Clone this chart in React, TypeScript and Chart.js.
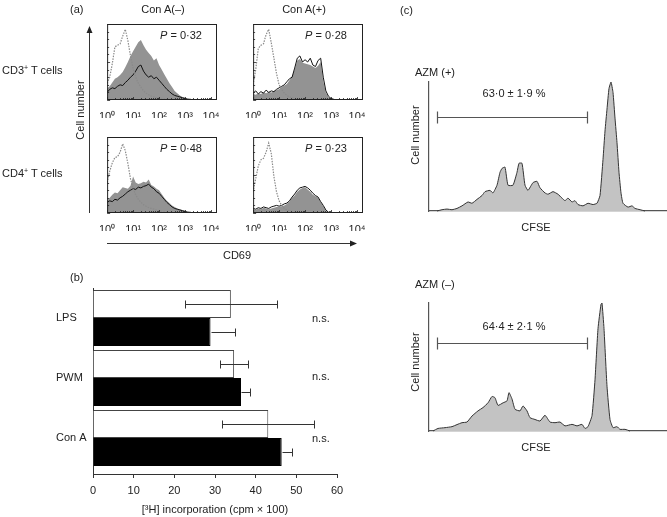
import React, { useEffect, useRef } from 'react';
import { Chart, registerables } from 'chart.js';

Chart.register(...registerables);
Chart.defaults.font.family = '"Liberation Sans", Arial, sans-serif';
Chart.defaults.color = '#222';

// ---------- Panel (a): CD69 histograms (x = log10 fluorescence) ----------
const logGrid = [0, 0.1, 0.2, 0.3, 0.4, 0.5, 0.6, 0.7, 0.8, 0.9, 1, 1.1, 1.2, 1.3, 1.4, 1.5, 1.6, 1.7, 1.8, 1.9, 2, 2.1, 2.2, 2.3, 2.4, 2.5, 2.6, 2.7, 2.8, 2.9, 3, 3.1, 3.2, 3.3, 3.4, 3.5, 3.6, 3.7, 3.8, 3.9, 4, 4.1, 4.2];
const decadeTicks = ['10⁰', '10¹', '10²', '10³', '10⁴'];

const cd3NegCtrl = [22, 30, 48, 70, 72, 74, 84, 93, 78, 58, 42, 30, 22, 17, 12, 9, 7, 5, 4, 3, 3, 2, 2, 1, 1, 0, 0, 0, 0, 0, 0, 0, 0, 0, 0, 0, 0, 0, 0, 0, 0, 0, 0];
const cd3NegAzm = [10, 14, 16, 15, 18, 20, 19, 23, 26, 30, 33, 38, 44, 46, 38, 33, 30, 32, 28, 30, 26, 22, 18, 14, 11, 8, 6, 5, 4, 3, 2, 1, 1, 0, 0, 0, 0, 0, 0, 0, 0, 0, 0];
const cd3NegGray = [15, 18, 23, 28, 30, 33, 37, 43, 50, 58, 64, 70, 76, 79, 72, 66, 62, 58, 52, 55, 46, 40, 34, 28, 22, 17, 12, 9, 6, 4, 3, 2, 1, 1, 0, 0, 0, 0, 0, 0, 0, 0, 0];

const cd3PosCtrl = [20, 40, 68, 72, 74, 86, 93, 75, 55, 35, 20, 14, 9, 6, 4, 3, 2, 1, 1, 0, 0, 0, 0, 0, 0, 0, 0, 0, 0, 0, 0, 0, 0, 0, 0, 0, 0, 0, 0, 0, 0, 0, 0];
const cd3PosAzm = [9, 12, 8, 11, 9, 13, 10, 12, 11, 14, 16, 18, 20, 24, 28, 30, 42, 55, 58, 50, 53, 50, 55, 46, 44, 52, 55, 30, 12, 5, 2, 1, 0, 0, 0, 0, 0, 0, 0, 0, 0, 0, 0];
const cd3PosGray = [8, 7, 9, 8, 10, 9, 11, 10, 12, 13, 14, 17, 19, 21, 26, 31, 40, 52, 54, 49, 48, 47, 46, 44, 42, 45, 50, 25, 10, 4, 2, 1, 0, 0, 0, 0, 0, 0, 0, 0, 0, 0, 0];

const cd4NegCtrl = [40, 55, 66, 73, 74, 80, 91, 82, 65, 45, 32, 24, 18, 14, 11, 9, 7, 6, 5, 4, 3, 2, 2, 1, 1, 0, 0, 0, 0, 0, 0, 0, 0, 0, 0, 0, 0, 0, 0, 0, 0, 0, 0];
const cd4NegAzm = [14, 16, 15, 18, 17, 20, 22, 25, 28, 30, 32, 31, 34, 33, 35, 36, 38, 34, 32, 28, 26, 22, 18, 14, 11, 8, 6, 5, 4, 3, 2, 1, 1, 0, 0, 0, 0, 0, 0, 0, 0, 0, 0];
const cd4NegGray = [16, 20, 24, 27, 26, 30, 34, 33, 32, 36, 48, 40, 38, 39, 41, 40, 44, 37, 35, 32, 30, 25, 20, 16, 13, 10, 8, 6, 5, 4, 3, 2, 1, 1, 0, 0, 0, 0, 0, 0, 0, 0, 0];

const cd4PosCtrl = [28, 45, 62, 70, 72, 80, 92, 78, 48, 28, 16, 10, 6, 4, 3, 2, 1, 1, 1, 0, 0, 0, 0, 0, 0, 0, 0, 0, 0, 0, 0, 0, 0, 0, 0, 0, 0, 0, 0, 0, 0, 0, 0];
const cd4PosAzm = [6, 5, 7, 6, 8, 7, 6, 8, 9, 10, 9, 10, 12, 13, 16, 21, 25, 30, 33, 34, 35, 33, 30, 26, 23, 21, 15, 10, 4, 1, 0, 0, 0, 0, 0, 0, 0, 0, 0, 0, 0, 0, 0];
const cd4PosGray = [5, 4, 6, 5, 7, 6, 5, 6, 7, 8, 8, 9, 10, 12, 15, 20, 23, 28, 31, 33, 34, 31, 28, 24, 22, 20, 14, 9, 3, 1, 0, 0, 0, 0, 0, 0, 0, 0, 0, 0, 0, 0, 0];

// ---------- Panel (b): [3H] incorporation ----------
const stimuli = ['LPS', 'PWM', 'Con A'];
const azmPlus = [33.9, 34.7, 43.1];
const azmPlusErr = [11.3, 3.4, 11.3];
const azmMinus = [28.9, 36.4, 46.4];
const azmMinusErr = [6.0, 2.1, 2.5];
const xTicksB = [0, 10, 20, 30, 40, 50, 60];

// ---------- Panel (c): CFSE histograms ----------
const cfsePosX = [8, 13, 18, 23, 28, 33, 39, 43, 48, 53, 56, 61, 64, 68, 71, 73, 76, 79, 84, 88, 90, 93, 96, 99, 104, 108, 111, 116, 119, 124, 129, 133, 136, 139, 143, 146, 149, 154, 159, 164, 168, 171, 174, 176, 178, 180, 182, 184, 186, 188, 190, 192, 194, 199, 203, 206, 211, 216];
const cfsePosY = [0, 1, 1.5, 1, 2, 4, 7, 6, 9, 12, 15, 16, 14, 20, 30, 33, 34, 20, 20, 30, 37, 37, 20, 16, 22, 23, 18, 14, 13, 15, 13, 10, 8, 10, 7, 8, 5, 4, 6, 5, 6, 12, 40, 62, 79, 95, 100, 92, 72, 53, 30, 14, 6, 3, 4, 2, 1, 0];
const cfseNegX = [4, 9, 16, 23, 28, 33, 38, 43, 49, 54, 59, 63, 66, 69, 74, 78, 80, 83, 86, 91, 94, 98, 101, 106, 111, 116, 121, 126, 131, 136, 143, 148, 153, 156, 159, 163, 166, 169, 172, 173, 175, 178, 181, 184, 188, 191, 196, 201];
const cfseNegY = [0, 2, 2.6, 3.4, 5, 6.5, 7, 11.7, 15.7, 18.3, 22, 27, 26, 20, 22, 23.5, 30, 25, 17, 15.7, 19.6, 15.7, 10.4, 9, 7.8, 12.3, 7, 6.5, 7, 4, 5.2, 4, 5.2, 2, 3.4, 12, 40, 80, 99, 100, 80, 35, 9, 2.6, 3.4, 1.3, 1.3, 0];
const gatePos = { start: 8, end: 158, level: 73 };
const gateNeg = { start: 8, end: 158, level: 69 };

// ---------- helpers ----------
const FONT = '"Liberation Sans", Arial, sans-serif';
const TXT = '#222';

const framePlugin = {
  id: 'frame',
  afterDatasetsDraw(chart: any) {
    const { ctx, chartArea: a, scales } = chart;
    ctx.save();
    ctx.strokeStyle = '#222';
    ctx.lineWidth = 1;
    ctx.strokeRect(a.left + 0.5, a.top + 0.5, a.right - a.left - 1, a.bottom - a.top - 1);
    ctx.lineWidth = 0.8;
    ctx.beginPath();
    for (let d = 0; d < 5; d++) {
      for (let m = 1; m <= 9; m++) {
        const v = d + Math.log10(m);
        if (v > scales.x.max) continue;
        const px = Math.round(scales.x.getPixelForValue(v)) + 0.5;
        const len = m === 1 ? 3 : 2;
        ctx.moveTo(px, a.bottom);
        ctx.lineTo(px, a.bottom - len);
      }
    }
    for (let v = 0; v <= 100; v += 10) {
      const py = Math.round(scales.y.getPixelForValue(v)) + 0.5;
      ctx.moveTo(a.left, py);
      ctx.lineTo(a.left + (v % 50 === 0 ? 3 : 2), py);
    }
    ctx.stroke();
    ctx.restore();
  },
};

function pts(ys: number[]) {
  return logGrid.map((x, i) => ({ x, y: ys[i] }));
}

function histConfig(ctrl: number[], azm: number[], gray: number[]) {
  return {
    type: 'line',
    data: {
      datasets: [
        { data: pts(ctrl), borderColor: '#8a8a8a', borderDash: [1.5, 1.2], borderWidth: 1.2, pointRadius: 0, fill: false, tension: 0 },
        { data: pts(azm), borderColor: '#111', borderWidth: 1, pointRadius: 0, fill: false, tension: 0 },
        { data: pts(gray), borderColor: 'rgba(0,0,0,0)', backgroundColor: '#939393', borderWidth: 0, pointRadius: 0, fill: 'origin', tension: 0 },
      ],
    },
    options: {
      animation: false,
      responsive: false,
      events: [],
      layout: { padding: { left: 10, right: 10, top: 4, bottom: 0 } },
      plugins: { legend: { display: false }, tooltip: { enabled: false } },
      scales: {
        x: {
          type: 'linear', min: 0, max: 4.23,
          grid: { display: false }, border: { display: false },
          ticks: {
            stepSize: 1, includeBounds: false, autoSkip: false, maxRotation: 0, padding: 2,
            font: { size: 11, family: FONT }, color: TXT,
            callback: (v: number) => (Number.isInteger(v) ? decadeTicks[v] : ''),
          },
          afterFit: (s: any) => { s.height = 18; },
        },
        y: { display: false, min: 0, max: 100 },
      },
    },
    plugins: [framePlugin],
  };
}

const errorBarPlugin = {
  id: 'errbars',
  afterDatasetsDraw(chart: any) {
    const { ctx, scales } = chart;
    const errs = [azmPlusErr, azmMinusErr];
    const vals = [azmPlus, azmMinus];
    ctx.save();
    ctx.strokeStyle = '#333';
    ctx.lineWidth = 1;
    [0, 1].forEach((di) => {
      const meta = chart.getDatasetMeta(di);
      meta.data.forEach((el: any, j: number) => {
        const y = Math.round(el.y) + 0.5;
        const lo = di === 0 ? vals[di][j] - errs[di][j] : vals[di][j];
        const x1 = Math.round(scales.x.getPixelForValue(lo)) + 0.5;
        const x2 = Math.round(scales.x.getPixelForValue(vals[di][j] + errs[di][j])) + 0.5;
        ctx.beginPath();
        ctx.moveTo(x1, y); ctx.lineTo(x2, y);
        if (di === 0) { ctx.moveTo(x1, y - 4); ctx.lineTo(x1, y + 4); }
        ctx.moveTo(x2, y - 4); ctx.lineTo(x2, y + 4);
        ctx.stroke();
      });
    });
    ctx.restore();
  },
};

function barConfig() {
  return {
    type: 'bar',
    data: {
      datasets: [
        { label: 'AZM (+)', data: stimuli.map((_, i) => ({ x: azmPlus[i], y: i })), backgroundColor: '#ffffff', borderColor: '#444', borderWidth: 1 },
        { label: 'AZM (–)', data: stimuli.map((_, i) => ({ x: azmMinus[i], y: i })), backgroundColor: '#000000', borderColor: '#000', borderWidth: 1 },
      ],
    },
    options: {
      animation: false,
      responsive: false,
      events: [],
      indexAxis: 'y',
      datasets: { bar: { categoryPercentage: 0.93, barPercentage: 1 } },
      layout: { padding: { left: 0, right: 19, top: 8, bottom: 0 } },
      plugins: { legend: { display: false }, tooltip: { enabled: false } },
      scales: {
        x: {
          type: 'linear', min: 0, max: 60,
          afterBuildTicks: (s: any) => { s.ticks = xTicksB.map((v) => ({ value: v })); },
          ticks: { font: { size: 11, family: FONT }, color: TXT, padding: 6, maxRotation: 0 },
          grid: { display: true, drawOnChartArea: false, tickLength: 4, color: '#333' },
          border: { color: '#333' },
          title: { display: true, text: '[³H] incorporation (cpm × 100)', font: { size: 11, family: FONT }, color: TXT, padding: { top: 0, bottom: 0 } },
          afterFit: (s: any) => { s.height = 43; },
        },
        y: {
          type: 'linear', min: -0.5, max: 2.6, reverse: true, offset: false,
          ticks: {
            stepSize: 1, includeBounds: false, crossAlign: 'far', padding: 0,
            font: { size: 11, family: FONT }, color: TXT,
            callback: (v: number) => stimuli[v] ?? '',
          },
          grid: { display: false, offset: false },
          border: { color: '#333' },
          afterFit: (s: any) => { s.width = 37; },
        },
      },
    },
    plugins: [errorBarPlugin],
  };
}

const gatePlugin = {
  id: 'gate',
  afterDatasetsDraw(chart: any, _args: any, opts: any) {
    const { ctx, scales } = chart;
    const x1 = Math.round(scales.x.getPixelForValue(opts.start)) + 0.5;
    const x2 = Math.round(scales.x.getPixelForValue(opts.end)) + 0.5;
    const y = Math.round(scales.y.getPixelForValue(opts.level)) + 0.5;
    ctx.save();
    ctx.strokeStyle = '#555';
    ctx.lineWidth = 1.2;
    ctx.beginPath();
    ctx.moveTo(x1, y); ctx.lineTo(x2, y);
    ctx.moveTo(x1, y - 6); ctx.lineTo(x1, y + 6);
    ctx.moveTo(x2, y - 6); ctx.lineTo(x2, y + 6);
    ctx.stroke();
    ctx.restore();
  },
};

function cfseConfig(xs: number[], ys: number[], gate: any) {
  return {
    type: 'line',
    data: {
      datasets: [
        { data: xs.map((x, i) => ({ x, y: ys[i] })), borderColor: '#333', borderWidth: 1, backgroundColor: '#c3c3c3', fill: 'origin', pointRadius: 0, tension: 0.15, clip: false },
      ],
    },
    options: {
      animation: false,
      responsive: false,
      events: [],
      layout: { padding: { left: 10, right: 0, top: 10, bottom: 4 } },
      plugins: { legend: { display: false }, tooltip: { enabled: false }, gate },
      scales: {
        x: { type: 'linear', min: 0, max: 238, ticks: { display: false }, grid: { display: false }, border: { color: '#555', width: 1.2 }, afterFit: (s: any) => { s.height = 0; } },
        y: { min: 0, max: 100, ticks: { display: false }, grid: { display: false }, border: { color: '#555', width: 1.2 }, afterFit: (s: any) => { s.width = 0; } },
      },
    },
    plugins: [gatePlugin],
  };
}

function ChartBox({ left, top, width, height, make }: any) {
  const ref = useRef<HTMLCanvasElement>(null);
  useEffect(() => {
    const chart = new Chart(ref.current as HTMLCanvasElement, make());
    return () => chart.destroy();
  }, []);
  return (
    <canvas ref={ref} width={width} height={height} style={{ position: 'absolute', left, top, width, height }} />
  );
}

function L({ x, y, children, align = 'left', rotate = false }: any) {
  const tx = align === 'center' ? '-50%' : align === 'right' ? '-100%' : '0';
  const style: any = {
    position: 'absolute', left: x, top: y, whiteSpace: 'nowrap', fontSize: 11, lineHeight: '13px',
    transform: rotate ? 'translate(-50%, -50%) rotate(-90deg)' : `translate(${tx}, -50%)`,
  };
  return <div style={style}>{children}</div>;
}

const supStyle = { fontSize: 7, verticalAlign: 'top', lineHeight: '7px' };

export default function App() {
  return (
    <div style={{ position: 'absolute', left: 0, top: 0, width: 667, height: 517, background: '#fff', fontFamily: FONT, color: TXT, overflow: 'hidden' }}>
      {/* Panel (a) */}
      <ChartBox left={97} top={20} width={130} height={98} make={() => histConfig(cd3NegCtrl, cd3NegAzm, cd3NegGray)} />
      <ChartBox left={243} top={20} width={130} height={98} make={() => histConfig(cd3PosCtrl, cd3PosAzm, cd3PosGray)} />
      <ChartBox left={97} top={133} width={130} height={98} make={() => histConfig(cd4NegCtrl, cd4NegAzm, cd4NegGray)} />
      <ChartBox left={243} top={133} width={130} height={98} make={() => histConfig(cd4PosCtrl, cd4PosAzm, cd4PosGray)} />
      <svg width={667} height={517} style={{ position: 'absolute', left: 0, top: 0, pointerEvents: 'none' }}>
        <line x1={89.5} y1={213} x2={89.5} y2={32} stroke="#333" strokeWidth={1} />
        <polygon points="86.5,33 92.5,33 89.5,26" fill="#222" />
        <line x1={107} y1={243.5} x2={351} y2={243.5} stroke="#333" strokeWidth={1} />
        <polygon points="350,240.5 350,246.5 357,243.5" fill="#222" />
      </svg>
      <L x={70} y={9}>(a)</L>
      <L x={163} y={9} align="center">Con A(–)</L>
      <L x={304} y={9} align="center">Con A(+)</L>
      <L x={2} y={70}>CD3<sup style={supStyle}>+</sup> T cells</L>
      <L x={2} y={173}>CD4<sup style={supStyle}>+</sup> T cells</L>
      <L x={80} y={110} rotate>Cell number</L>
      <L x={237} y={255} align="center">CD69</L>
      <L x={202} y={35} align="right"><i>P</i> = 0·32</L>
      <L x={347} y={35} align="right"><i>P</i> = 0·28</L>
      <L x={202} y={148} align="right"><i>P</i> = 0·48</L>
      <L x={347} y={148} align="right"><i>P</i> = 0·23</L>

      {/* Panel (b) */}
      <L x={70} y={277}>(b)</L>
      <ChartBox left={56} top={280} width={300} height={237} make={barConfig} />
      <L x={312} y={318}>n.s.</L>
      <L x={312} y={376}>n.s.</L>
      <L x={312} y={438}>n.s.</L>

      {/* Panel (c) */}
      <L x={400} y={10}>(c)</L>
      <L x={415} y={72}>AZM (+)</L>
      <ChartBox left={419} top={72} width={248} height={143} make={() => cfseConfig(cfsePosX, cfsePosY, gatePos)} />
      <L x={415} y={135} rotate>Cell number</L>
      <L x={514} y={93} align="center">63·0 ± 1·9 %</L>
      <L x={536} y={227} align="center">CFSE</L>

      <L x={415} y={284}>AZM (–)</L>
      <ChartBox left={419} top={293} width={248} height={142} make={() => cfseConfig(cfseNegX, cfseNegY, gateNeg)} />
      <L x={415} y={362} rotate>Cell number</L>
      <L x={514} y={326} align="center">64·4 ± 2·1 %</L>
      <L x={536} y={447} align="center">CFSE</L>
    </div>
  );
}
